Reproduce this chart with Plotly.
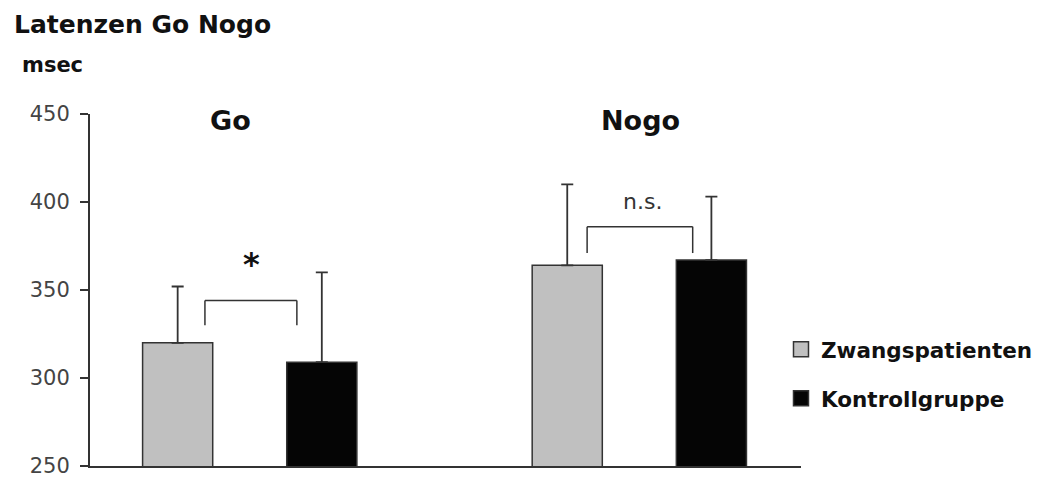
import plotly.graph_objects as go

categories = ["Go", "Nogo"]
series_names = ["Zwangspatienten", "Kontrollgruppe"]
zwang_values = [320, 364]
zwang_err = [32, 46]
kontroll_values = [309, 367]
kontroll_err = [51, 36]
y_ticks = [250, 300, 350, 400, 450]

# significance brackets: (left, right, top, bottom)
brackets = [
    (-0.115, 0.121, 344, 330),
    (0.866, 1.137, 386, 371),
]

FONT = "DejaVu Sans"
DARK = "#333333"
GRAY = "#c0c0c0"
BLACK = "#050505"

fig = go.Figure()
fig.add_trace(go.Bar(
    x=categories, y=zwang_values, name=series_names[0], showlegend=False,
    width=0.18, offset=-0.275,
    marker=dict(color=GRAY, line=dict(color=DARK, width=1.5)),
    error_y=dict(type="data", array=zwang_err, symmetric=False,
                 arrayminus=[0, 0], color=DARK, thickness=1.8, width=6),
))
fig.add_trace(go.Bar(
    x=categories, y=kontroll_values, name=series_names[1], showlegend=False,
    width=0.18, offset=0.095,
    marker=dict(color=BLACK, line=dict(color=DARK, width=1.5)),
    error_y=dict(type="data", array=kontroll_err, symmetric=False,
                 arrayminus=[0, 0], color=DARK, thickness=1.8, width=6),
))
# legend entries
for name, col, grp in [(series_names[0], GRAY, "a"), (series_names[1], BLACK, "b")]:
    fig.add_trace(go.Scatter(
        x=[None], y=[None], mode="markers", name="<b>" + name + "</b>", legendgroup=grp,
        marker=dict(symbol="square", size=15, color=col, line=dict(color=DARK, width=1.5)),
    ))

shapes = []
for (x0, x1, top, bot) in brackets:
    for (a0, a1, b0, b1) in [(x0, x0, bot, top), (x0, x1, top, top), (x1, x1, bot, top)]:
        shapes.append(dict(type="line", xref="x", yref="y", x0=a0, x1=a1, y0=b0, y1=b1,
                           line=dict(color=DARK, width=1.5)))

annotations = [
    dict(x=0.004, y=353, xref="x", yref="y", text="<b>*</b>", showarrow=False,
         font=dict(family=FONT, size=32, color="#111"), yanchor="bottom"),
    dict(x=1.007, y=400.5, xref="x", yref="y", text="n.s.", showarrow=False,
         font=dict(family=FONT, size=22, color=DARK)),
    dict(x=-0.05, y=446.5, xref="x", yref="y", text="<b>Go</b>", showarrow=False,
         font=dict(family=FONT, size=27, color="#111")),
    dict(x=1.003, y=446.5, xref="x", yref="y", text="<b>Nogo</b>", showarrow=False,
         font=dict(family=FONT, size=27, color="#111")),
    dict(x=-0.098, y=1.14, xref="paper", yref="paper", text="<b>msec</b>",
         showarrow=False, xanchor="left", yanchor="middle",
         font=dict(family=FONT, size=21, color="#111")),
]

# page body has an 8px margin: figure placed at (8, 8)
fig.update_layout(
    width=1041, height=477,
    margin=dict(l=82, r=247, t=106, b=19),
    paper_bgcolor="white", plot_bgcolor="white",
    title=dict(text="<b>Latenzen Go Nogo</b>", x=6 / 1041, xanchor="left", xref="container",
               y=1 - 16 / 477, yanchor="middle", yref="container",
               font=dict(family=FONT, size=25, color="#111")),
    barmode="overlay",
    showlegend=True,
    legend=dict(x=0.9705, y=0.39, xanchor="left", yanchor="top",
                font=dict(family=FONT, size=21.5, color="#111"),
                traceorder="grouped", tracegroupgap=18, bgcolor="rgba(0,0,0,0)"),
    shapes=shapes,
    annotations=annotations,
    xaxis=dict(range=[-0.41, 1.415], showticklabels=False, ticks="", showgrid=False,
               zeroline=False, showline=True, linecolor=DARK, linewidth=2,
               categoryorder="array", categoryarray=categories, fixedrange=True),
    yaxis=dict(range=[250, 450], tickvals=y_ticks, ticks="outside", ticklen=8,
               tickwidth=2, tickcolor=DARK, showline=True, linecolor=DARK, linewidth=2,
               showgrid=False, zeroline=False, automargin=False,
               ticklabeloverflow="allow",
               tickfont=dict(family=FONT, size=21, color="#444"), ticklabelstandoff=6),
)

fig.write_html("out.html")
